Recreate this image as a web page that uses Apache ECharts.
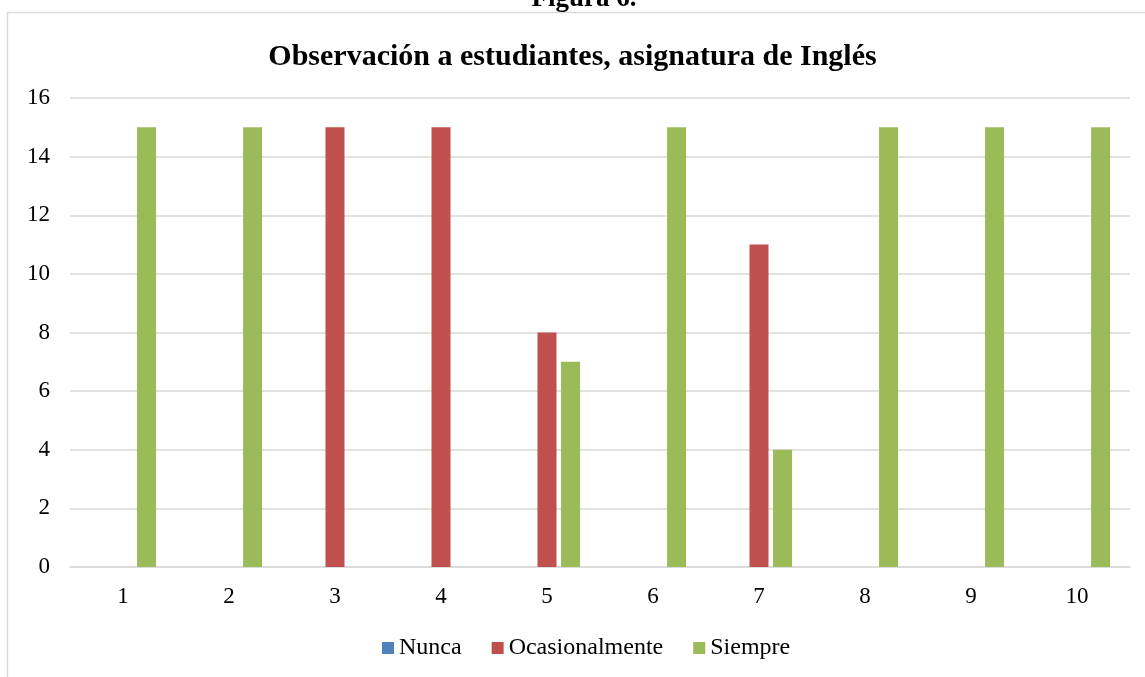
<!DOCTYPE html>
<html>
<head>
<meta charset="utf-8">
<script src="https://cdn.jsdelivr.net/npm/echarts@6/dist/echarts.min.js"></script>
<style>
html,body{margin:0;padding:0;background:#fff;}
#c{width:1145px;height:677px;}
</style>
</head>
<body>
<div id="c"></div>
<script>
var categories = ['1','2','3','4','5','6','7','8','9','10'];
var seriesNames = ['Nunca','Ocasionalmente','Siempre'];
var nunca = [0,0,0,0,0,0,0,0,0,0];
var ocasionalmente = [0,0,15,15,8,0,11,0,0,0];
var siempre = [15,15,0,0,7,15,4,15,15,15];
var colors = ['#4f81bd','#c0504d','#9bbb59'];

var font = '"Liberation Serif", "Times New Roman", serif';
var chart = echarts.init(document.getElementById('c'));
function mk(name, data, color){
  return {
    name: name, type: 'bar', data: data, barWidth: 19, barGap: '24%',
    itemStyle: {color: color}
  };
}
chart.setOption({
  animation: false,
  color: colors,
  graphic: [
    {type:'rect', shape:{x:7.5, y:12.5, width:1150, height:700}, style:{fill:'none', stroke:'#d9d9d9', lineWidth:1.5}, z:-1},
    {type:'text', x:584, y:13, style:{text:'Figura 6.', font:'bold 27px ' + font, fill:'#000', align:'center', verticalAlign:'bottom', textAlign:'center', textVerticalAlign:'bottom'}}
  ],
  title: {
    text: 'Observación a estudiantes, asignatura de Inglés',
    left: 'center', top: 37,
    textStyle: {fontFamily: font, fontSize: 30, fontWeight: 'bold', color: '#000'}
  },
  legend: {
    data: seriesNames, top: 636, left: 382,
    itemWidth: 12, itemHeight: 12, itemGap: 30,
    icon: 'rect', padding: 0,
    textStyle: {fontFamily: font, fontSize: 24, color: '#000'}
  },
  grid: {left: 70, right: 15, top: 98, bottom: 110, containLabel: false},
  xAxis: {
    type: 'category', data: categories,
    axisLine: {show: true, lineStyle: {color: '#d9d9d9', width: 1.5}},
    axisTick: {show: false},
    axisLabel: {fontFamily: font, fontSize: 23, color: '#000', margin: 18}
  },
  yAxis: {
    type: 'value', min: 0, max: 16, interval: 2,
    axisLine: {show: false}, axisTick: {show: false},
    axisLabel: {fontFamily: font, fontSize: 23, color: '#000', margin: 20},
    splitLine: {lineStyle: {color: '#d9d9d9', width: 1.5}}
  },
  series: [mk(seriesNames[0], nunca, colors[0]), mk(seriesNames[1], ocasionalmente, colors[1]), mk(seriesNames[2], siempre, colors[2])]
});
</script>
</body>
</html>
